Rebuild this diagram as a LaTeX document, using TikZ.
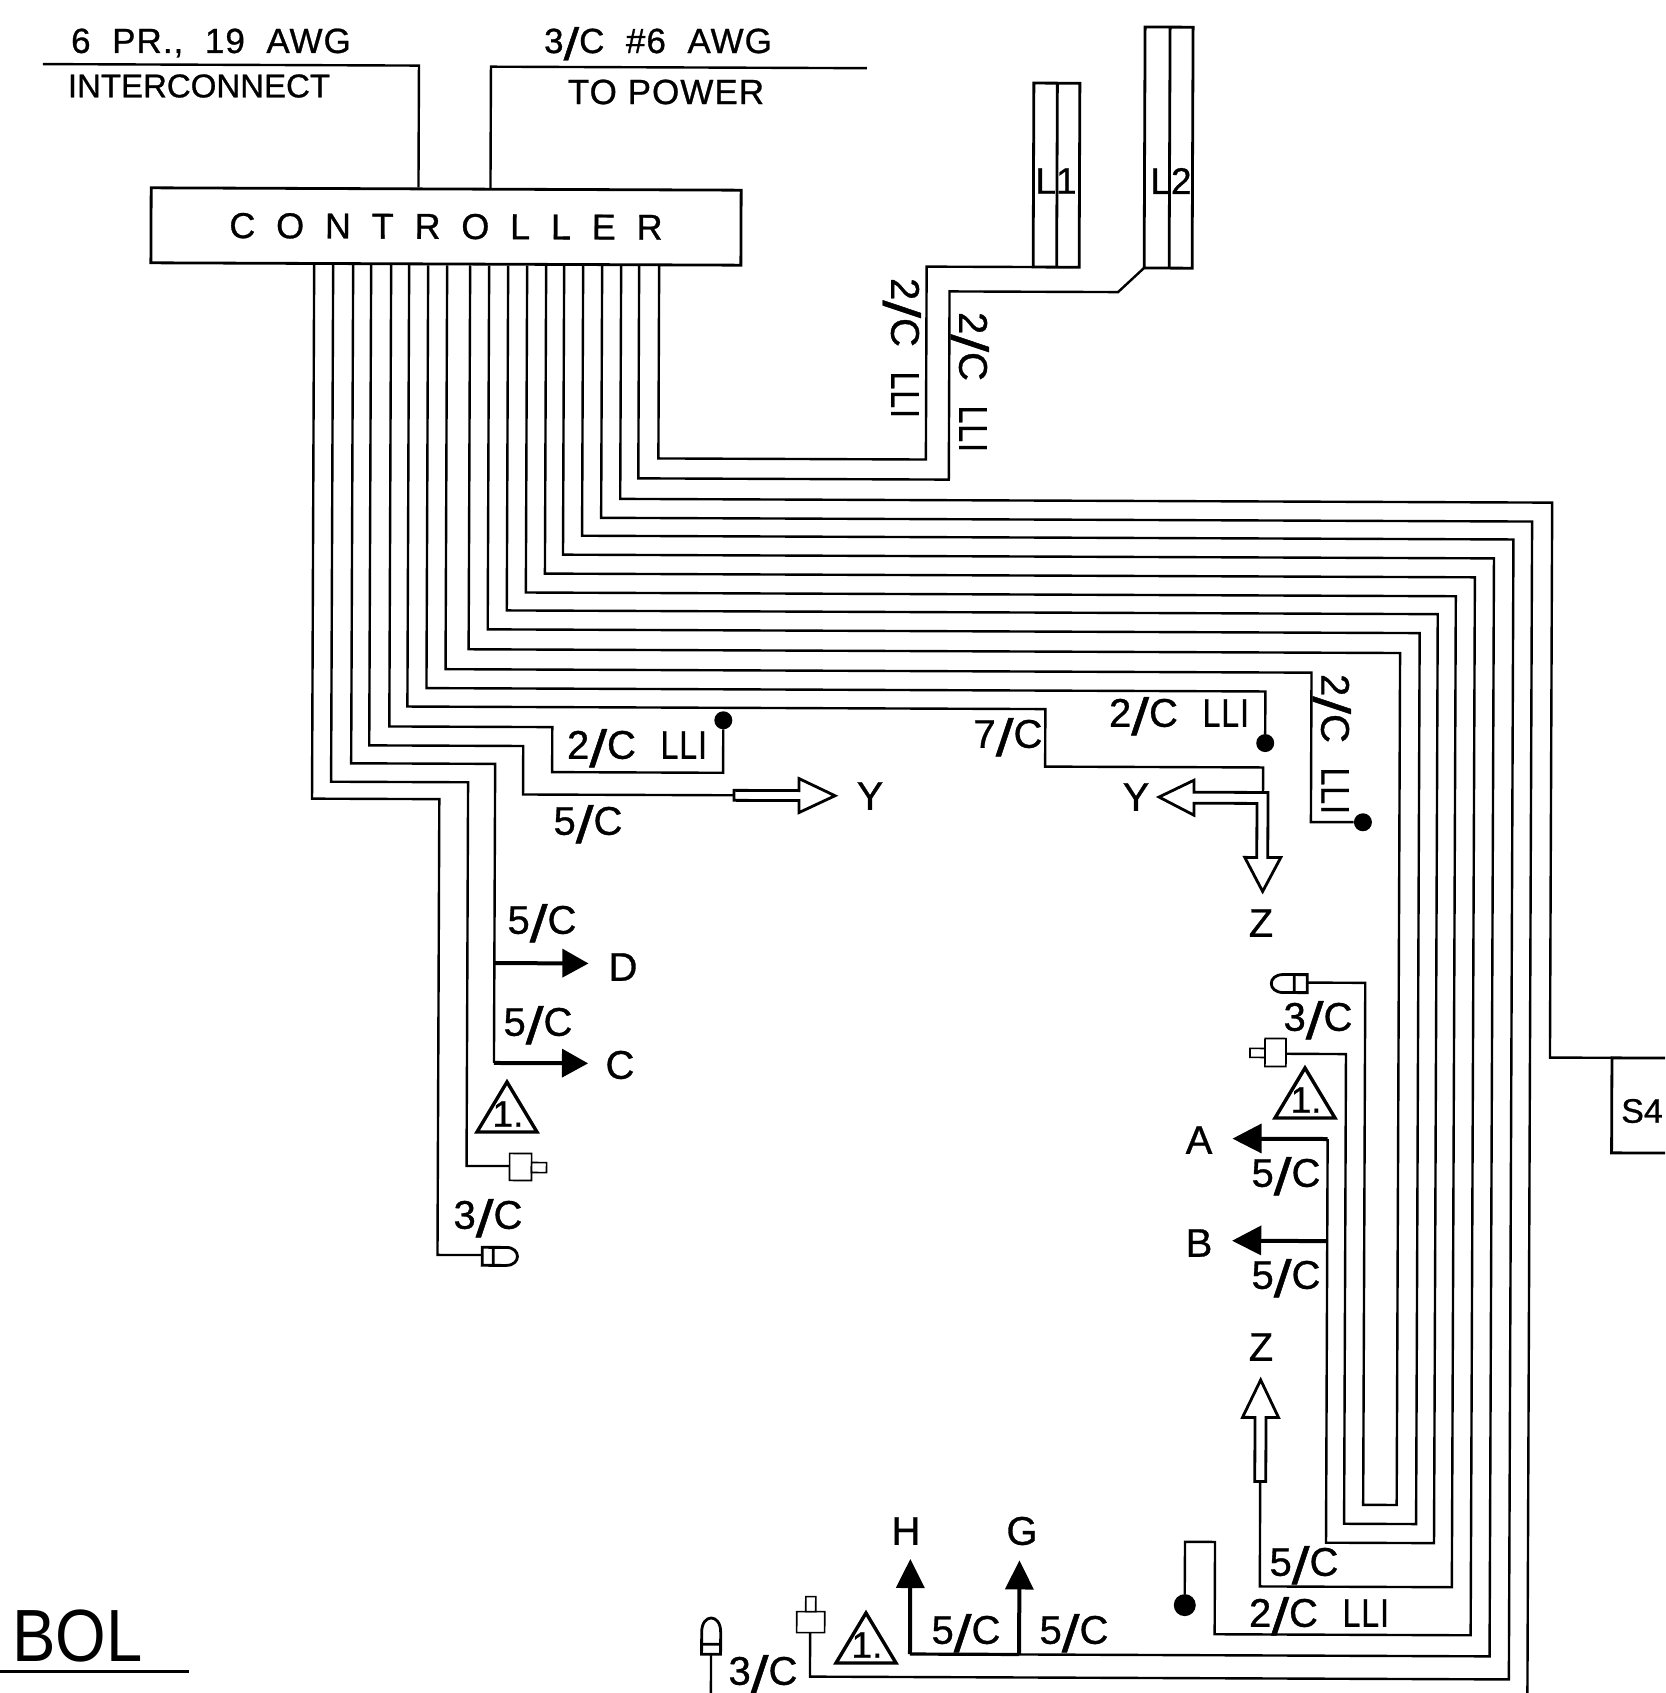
\documentclass[tikz,border=0pt]{standalone}
\usepackage{fontspec}
\setmainfont{Liberation Sans}[FakeBold=0.8]
\newfontface\labfont{Liberation Sans}[LetterSpace=3,FakeBold=0.8]
\newfontface\topfont{Liberation Sans}[LetterSpace=3,FakeBold=0.8]
\newfontface\ctlfont{Liberation Sans}[LetterSpace=30,FakeBold=0.8]
\newfontface\titlefont{Liberation Sans}
\newcommand{\tallslash}{\smash{\raisebox{-.2em}{\scalebox{1.6}[1.3]{/}}}}
\newcommand{\twoc}{2\tallslash C\ \ \scalebox{.8}[1]{LLI}}
\newcommand{\nc}[1]{#1\tallslash C}
\tikzset{
  wire/.style={line width=2.4pt,line join=miter,color=black},
  thickwire/.style={line width=4pt,color=black},
  bus/.style={line width=3.2pt,color=black},
  boxline/.style={line width=2.8pt,color=black},
  thinsym/.style={line width=1.6pt,color=black,fill=white},
  hollow/.style={line width=2.8pt,color=black,fill=white,line join=miter},
  solidhead/.style={fill=black,draw=none},
  enddot/.style={circle,fill=black,inner sep=0pt,minimum size=18pt},
  lab/.style={inner sep=0pt,font=\labfont\fontsize{40}{44}\selectfont},
  top/.style={inner sep=0pt,font=\topfont\fontsize{35}{40}\selectfont},
  ctrlbox/.style={draw=black,line width=2.8pt,fill=white,inner sep=0pt,minimum width=590pt,minimum height=75pt,transform shape,font=\ctlfont\fontsize{36}{40}\selectfont},
}
\begin{document}
\begin{tikzpicture}[x=1pt,y=-1pt]
\useasboundingbox (0,0) rectangle (1665,1693);
\fill[white] (0,0) rectangle (1665,1693);
\clip (0,0) rectangle (1665,1693);

\begin{scope}[rotate around={-0.23:(900,800)}]
% controller and incoming lines
\node[ctrlbox] (ctrl) at (443.7,228.3) {C O N T R O L L E R};
\draw[wire] (40,67.5) -- (416,67.5) -- (416,0 |- ctrl.north);
\draw[wire] (488,0 |- ctrl.north) -- (488,68.3) -- (864,68.3);

% L1, L2
\draw[boxline] (1031,82.5) rectangle (1077,266.5);
\coordinate (L1w) at (1031,266.5);
\draw[boxline] (1054.5,82.5) -- (1054.5,266.5);
\draw[boxline] (1142,26) rectangle (1190,267);
\coordinate (L2w) at (1142,267);
\draw[boxline] (1167,26) -- (1167,267);

% terminal dots
\node[enddot] (dotA) at (723,721) {};
\node[enddot] (dotB) at (1265,741.6) {};
\node[enddot] (dotC) at (1363,820.4) {};
\node[enddot,minimum size=22pt] (dotD) at (1188,1604) {};

% symbols
\draw[thinsym] (511,1155) rectangle (533,1182);
\draw[thinsym] (533,1164) rectangle (548,1174);
\coordinate (plugL) at (511,1167.7);
\draw[boxline,fill=white] (484,1249) -- (508,1249) .. controls (523,1249) and (523,1267) .. (508,1267) -- (484,1267) -- cycle;
\draw[boxline] (495,1249) -- (495,1267);
\coordinate (sensL) at (484,1256.8);

\draw[thinsym] (1266,1037) rectangle (1287,1065);
\draw[thinsym] (1251,1047) rectangle (1266,1056);
\coordinate (plugR) at (1287,1052.3);
\draw[boxline,fill=white] (1308,973) -- (1284,973) .. controls (1268,973) and (1268,991) .. (1284,991) -- (1308,991) -- cycle;
\draw[boxline] (1295,973) -- (1295,991);
\coordinate (sensR) at (1308,981);

\draw[thinsym] (800,1612) rectangle (828,1633);
\draw[thinsym] (809,1597) rectangle (819,1612);
\coordinate (plugB) at (813.5,1633);
\draw[boxline,fill=white] (705,1655) -- (705,1633) .. controls (705,1614) and (724,1614) .. (724,1633) -- (724,1655) -- cycle;
\draw[boxline] (705,1645) -- (724,1645);
\coordinate (sensB) at (714.5,1655);

% S4 box (runs off the page)
\draw[boxline] (1700,1055) -- (1613,1055) -- (1613,1150) -- (1700,1150);
\coordinate (S4nw) at (1613,1055);

% arrow ends
\coordinate (yL) at (734,796);
\coordinate (zB) at (1263,1480);

% wires from controller
\draw[wire] (312,0 |- ctrl.south) -- (312,801) -- (439.3,801) -- (439.3,1256.8) -- (sensL);
\draw[wire] (331,0 |- ctrl.south) -- (331,784) -- (468,784) -- (468,1167.7) -- (plugL);
\draw[wire] (351,0 |- ctrl.south) -- (351,765.5) -- (495,765.5) -- (495,1064.6);
\draw[wire] (369,0 |- ctrl.south) -- (369,747.5) -- (523,747.5) -- (523,796) -- (yL);
\draw[wire] (389,0 |- ctrl.south) -- (389,728.5) -- (552,728.5) -- (552,773.5) -- (723,773.5) -- (dotA);
\draw[wire] (407,0 |- ctrl.south) -- (407,708.5) -- (1045,708.5) -- (1045,766) -- (1263,766) -- (1263,790.6);
\draw[wire] (426,0 |- ctrl.south) -- (426,690) -- (1265,690) -- (dotB);
\draw[wire] (445,0 |- ctrl.south) -- (445,671) -- (1311,671) -- (1311,820.4) -- (dotC);
\draw[wire] (468,0 |- ctrl.south) -- (468,651) -- (1399.5,651) -- (1399.5,1503) -- (1366,1503) -- (1366,981) -- (sensR);
\draw[wire] (487,0 |- ctrl.south) -- (487,631) -- (1419,631) -- (1419,1522) -- (1347,1522) -- (1347,1052.3) -- (plugR);
\draw[wire] (506,0 |- ctrl.south) -- (506,612) -- (1437,612) -- (1437,1541) -- (1329,1541) -- (1329,1137.3);
\draw[wire] (525,0 |- ctrl.south) -- (525,594) -- (1455,594) -- (1455,1585) -- (1263,1585) -- (zB);
\draw[wire] (544,0 |- ctrl.south) -- (544,575) -- (1474,575) -- (1474,1633) -- (1218,1633) -- (1218,1540.7) -- (1188,1540.7) -- (dotD);
\draw[wire] (562,0 |- ctrl.south) -- (562,556) -- (1493,556) -- (1493,1654) -- (1022.5,1654);
\draw[bus] (1022.5,1654) -- (913.4,1654);
\draw[wire] (581,0 |- ctrl.south) -- (581,537) -- (1512.4,537) -- (1512.4,1677) -- (813.5,1677) -- (plugB);
\draw[wire] (600,0 |- ctrl.south) -- (600,519) -- (1531,519) -- (1531,1720);
\draw[wire] (619,0 |- ctrl.south) -- (619,500) -- (1551,500) -- (1551,1055) -- (S4nw);
\draw[wire] (637,0 |- ctrl.south) -- (637,479.4) -- (947.5,479.4) -- (947.5,291.2) -- (1116,291.2) -- (L2w);
\draw[wire] (657,0 |- ctrl.south) -- (657,459.4) -- (924.5,459.4) -- (924.5,266.5) -- (L1w);
\draw[wire] (sensB) -- (714.5,1720);

% solid arrows
\draw[thickwire] (495,964.7) -- (565,964.7);
\fill[solidhead] (563,950) -- (589,964.7) -- (563,979) -- cycle;
\draw[thickwire] (495,1064.6) -- (565,1064.6);
\fill[solidhead] (563,1050) -- (589,1064.6) -- (563,1079) -- cycle;
\draw[thickwire] (1329,1137.3) -- (1260,1137.3);
\fill[solidhead] (1263,1122) -- (1234,1137.3) -- (1263,1152) -- cycle;
\draw[thickwire] (1329,1239.4) -- (1260,1239.4);
\fill[solidhead] (1263,1224) -- (1234,1239.4) -- (1263,1254) -- cycle;
\draw[thickwire] (913.4,1654) -- (913.4,1586);
\fill[solidhead] (899,1588) -- (913.4,1559) -- (928,1588) -- cycle;
\draw[thickwire] (1022.5,1654) -- (1022.5,1586);
\fill[solidhead] (1008,1589) -- (1022.5,1560) -- (1037,1589) -- cycle;

% hollow arrows
\draw[hollow] (734,791) -- (799,791) -- (799,779) -- (835,796) -- (799,813) -- (799,801) -- (734,801) -- cycle;
\draw[hollow] (1257,802) -- (1194,802) -- (1194,814) -- (1159,796) -- (1194,779) -- (1194,791) -- (1268,791) -- (1268,856) -- (1281,856) -- (1263,890) -- (1245,856) -- (1257,856) -- cycle;
\draw[hollow] (1257.5,1480) -- (1257.5,1416) -- (1245,1416) -- (1263,1378.5) -- (1281,1416) -- (1268.5,1416) -- (1268.5,1480) -- cycle;
\end{scope}

% labels in picture coordinates
\node[top] (t1) at (211,43) {6\ \ PR.,\ \ 19\ \ AWG};
\node[top,font=\fontsize{33}{38}\selectfont] (t2) at (199,86) {INTERCONNECT};
\node[top] (t3) at (658,41) {\nc{3}\ \ \#6\ \ AWG};
\node[top] (t4) at (666,92) {TO POWER};

\node[inner sep=0pt,font=\fontsize{37}{40}\selectfont] (l1) at (1056,181) {L1};
\node[inner sep=0pt,font=\fontsize{37}{40}\selectfont] (l2) at (1171,181) {L2};
\node[inner sep=0pt,anchor=west,font=\fontsize{34}{38}\selectfont] (s4) at (1621,1111) {S4};

\node[lab,rotate=-90] (c1) at (905,348) {\twoc};
\node[lab,rotate=-90] (c2) at (973,382) {\twoc};
\node[lab,rotate=-90] (c3) at (1335,744) {\twoc};
\node[lab] (c4) at (637,745) {\twoc};
\node[lab] (c5) at (1179,713) {\twoc};
\node[lab] (c6) at (1319,1613) {\twoc};

\node[lab] (n7c) at (1008,734) {\nc{7}};
\node[lab] (a1) at (588,821) {\nc{5}};
\node[lab] (a2) at (542,920) {\nc{5}};
\node[lab] (a3) at (538,1022) {\nc{5}};
\node[lab] (a4) at (488,1215) {\nc{3}};
\node[lab] (a5) at (1318,1017) {\nc{3}};
\node[lab] (a6) at (1286,1173) {\nc{5}};
\node[lab] (a7) at (1286,1275) {\nc{5}};
\node[lab] (a8) at (1304,1562) {\nc{5}};
\node[lab] (a9) at (966,1630) {\nc{5}};
\node[lab] (a10) at (1074,1630) {\nc{5}};
\node[lab] (a11) at (763,1671) {\nc{3}};

\node[lab] (ly1) at (870,796) {Y};
\node[lab] (ly2) at (1136,797) {Y};
\node[lab] (lz1) at (1261,923) {Z};
\node[lab] (lz2) at (1261,1347) {Z};
\node[lab] (ld) at (623,967) {D};
\node[lab] (lc) at (620,1065) {C};
\node[lab] (la) at (1199,1140) {A};
\node[lab] (lb) at (1199,1243) {B};
\node[lab] (lh) at (906,1531) {H};
\node[lab] (lg) at (1022,1531) {G};

% note triangles
\foreach \nm/\tx/\ty in {tA/507/1132,tB/1305/1118,tC/866/1663}{
  \draw[line width=3.4pt,line join=miter] (\tx,\ty-50) -- (\tx+30,\ty) -- (\tx-30,\ty) -- cycle;
  \node[inner sep=0pt,font=\fontsize{37}{40}\selectfont] (\nm) at (\tx+1,\ty-18) {1.};
}

% title fragment
\node[inner sep=0pt,anchor=west,font=\titlefont\fontsize{74}{80}\selectfont] (bol) at (12,1636) {\scalebox{.88}[1]{BOL}};
\coordinate (ulA) at (0,1671);
\coordinate (ulB) at (189,1671);
\draw[line width=3pt] (ulA) -- (ulB);
\end{tikzpicture}
\end{document}
